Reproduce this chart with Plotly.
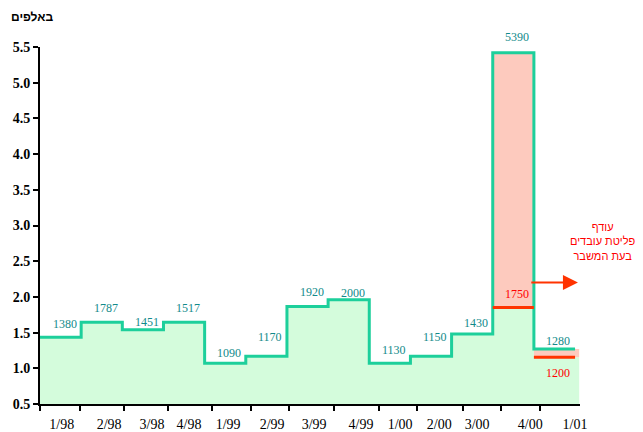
import plotly.graph_objects as go

# quarters (segment labels) and the drawn levels, in thousands
quarters = ['1/98', '2/98', '3/98', '4/98', '1/99', '2/99', '3/99', '4/99',
            '1/00', '2/00', '3/00', '4/00', '1/01']
levels = [1.435, 1.646, 1.54, 1.646, 1.07, 1.17, 1.866, 1.96, 1.07, 1.17, 1.48, 5.42, 1.27]
level_labels = ['1380', '1787', '1451', '1517', '1090', '1170', '1920', '2000',
                '1130', '1150', '1430', '5390', '1280']
# red "normal" levels for the crisis quarters
red_levels = [None] * 11 + [1.85, 1.155]
red_labels = [None] * 11 + ['1750', '1200']

# axis tick marks (irregular, as in the original) and label centres
tick_marks = [0, 0.972, 2.041, 3.111, 4.18, 5.128, 6.051, 7.145, 8.238, 9.162, 10.279, 11.203, 12.151]
label_pos = [0.53, 1.68, 2.72, 3.62, 4.57, 5.64, 6.66, 7.80, 8.75, 9.70, 10.62, 11.91, 13.0]
label_lift = [13, 14, 8, 14, 10, 19, 14, 7, 13, 19, 11, 16, 8]

GREEN = '#1dcf9b'
GREEN_FILL = 'rgb(212,252,220)'
PINK_FILL = 'rgb(253,202,190)'
RED = '#ff3300'
TEAL = '#118a8a'
SERIF = 'Liberation Serif, Times New Roman, serif'
fill_end = 13.1
x_max = 13.12

n = len(levels)
bounds = list(range(n + 1))

fig = go.Figure()

# green area under the line (capped at red level where there is one)
green_top = [r if r is not None else l for l, r in zip(levels, red_levels)]
fig.add_trace(go.Scatter(x=bounds[:-1] + [fill_end], y=green_top + [green_top[-1]],
                         mode='lines', line=dict(width=0, shape='hv'),
                         fill='tozeroy', fillcolor=GREEN_FILL, hoverinfo='skip'))

# pink "excess" blocks
px, py = [], []
for i, (l, r) in enumerate(zip(levels, red_levels)):
    if r is None:
        continue
    x1 = fill_end if i == n - 1 else i + 1
    px += [i, i, x1, x1, None]
    py += [r, l, l, r, None]
fig.add_trace(go.Scatter(x=px, y=py, mode='lines', line=dict(width=0),
                         fill='toself', fillcolor=PINK_FILL, hoverinfo='skip'))

# green step line
fig.add_trace(go.Scatter(x=bounds, y=levels + [levels[-1]], mode='lines',
                         line=dict(color=GREEN, width=3, shape='hv'), hoverinfo='skip'))

# red levels
rx, ry = [], []
for i, r in enumerate(red_levels):
    if r is None:
        continue
    rx += [i, i + 1, None]
    ry += [r, r, None]
fig.add_trace(go.Scatter(x=rx, y=ry, mode='lines', line=dict(color=RED, width=3),
                         hoverinfo='skip'))

# invisible trace so xaxis2 (labels) is drawn
fig.add_trace(go.Scatter(x=[0], y=[0.5], xaxis='x2', mode='markers',
                         marker=dict(opacity=0), hoverinfo='skip'))

ann = []
for i, (l, t) in enumerate(zip(levels, level_labels)):
    ann.append(dict(x=i + 0.5, y=l, text=t, showarrow=False, xshift=4,
                    yshift=label_lift[i], font=dict(family=SERIF, size=12, color=TEAL)))
for i, (r, t) in enumerate(zip(red_levels, red_labels)):
    if r is None:
        continue
    ann.append(dict(x=i + 0.5, y=r, text=t, showarrow=False, xshift=4,
                    yshift=14 if i < n - 1 else -16,
                    font=dict(family=SERIF, size=12, color='#ff0000')))

# arrow and note
ann.append(dict(x=13.07, y=2.2, ax=11.9, ay=2.2, axref='x', ayref='y', text='',
                showarrow=True, arrowhead=2, arrowsize=1.5, arrowwidth=2, arrowcolor=RED))
ann.append(dict(xref='paper', x=1.043, y=2.77, xanchor='center', yanchor='middle',
                text='עודף<br>פליטת עובדים<br>בעת המשבר',
                showarrow=False, font=dict(family='Liberation Sans', size=11, color='#ff0000')))
ann.append(dict(xref='paper', yref='paper', x=0.028, y=1.084, xanchor='right', yanchor='middle',
                text='<b>באלפים</b>', showarrow=False,
                font=dict(family='Liberation Sans', size=12, color='black')))

# page body has an 8px margin, so the figure is drawn 8px in from the corner
fig.update_layout(
    width=635, height=424,
    margin=dict(l=32, r=63, t=39, b=28),
    paper_bgcolor='white', plot_bgcolor='white',
    showlegend=False,
    annotations=ann,
    xaxis=dict(range=[0, x_max], tickvals=tick_marks, ticktext=[''] * len(tick_marks),
               showline=True, linecolor='black', linewidth=2, ticks='outside',
               ticklen=5, tickwidth=2, tickcolor='black', showgrid=False, zeroline=False,
               automargin=False),
    xaxis2=dict(range=[0, x_max], overlaying='x', side='bottom', anchor='y',
                tickvals=label_pos, ticktext=quarters, ticks='', showline=False,
                showgrid=False, zeroline=False, ticklabelstandoff=10, automargin=False,
                tickfont=dict(family=SERIF, size=14, color='black')),
    yaxis=dict(range=[0.5, 5.5], tickvals=[0.5, 1, 1.5, 2, 2.5, 3, 3.5, 4, 4.5, 5, 5.5],
               ticktext=['0.5', '1.0', '1.5', '2.0', '2.5', '3.0', '3.5', '4.0', '4.5', '5.0', '5.5'],
               showline=True, linecolor='black', linewidth=2, ticks='outside',
               ticklen=5, tickwidth=2, tickcolor='black', showgrid=False, zeroline=False,
               automargin=False,
               tickfont=dict(family=SERIF, size=14, color='black', weight='bold')),
)

fig.write_html("out.html")
